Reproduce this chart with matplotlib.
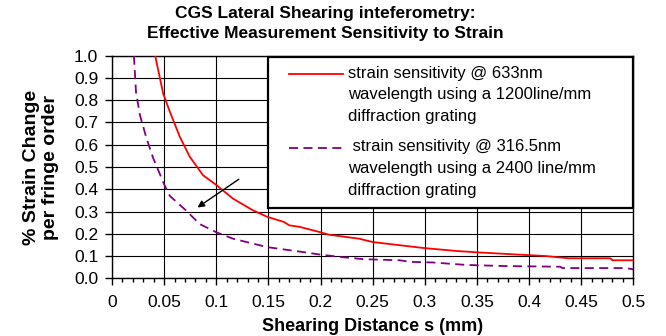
import matplotlib
matplotlib.use("Agg")
import matplotlib.pyplot as plt
from matplotlib.patches import Rectangle

plt.rcParams['font.family'] = ['Liberation Sans', 'DejaVu Sans']

# shearing distance (mm) vs % strain change per fringe order
red_x = [0.0414, 0.049, 0.0555, 0.065, 0.0746, 0.0873, 0.1004, 0.116, 0.135, 0.149,
         0.165, 0.17, 0.18, 0.199, 0.208, 0.237, 0.25, 0.299, 0.33, 0.349,
         0.384, 0.416, 0.438, 0.478, 0.48, 0.5]
red_y = [1.0, 0.831, 0.748, 0.636, 0.546, 0.463, 0.418, 0.358, 0.306, 0.276,
         0.253, 0.238, 0.231, 0.208, 0.196, 0.178, 0.163, 0.136, 0.123, 0.117,
         0.108, 0.100, 0.090, 0.090, 0.081, 0.081]

purple_x = [0.021, 0.023, 0.0268, 0.033, 0.0395, 0.050, 0.0555, 0.0714, 0.084, 0.100,
            0.116, 0.149, 0.180, 0.199, 0.219, 0.241, 0.276, 0.286, 0.308, 0.340,
            0.378, 0.430, 0.432, 0.493, 0.5]
purple_y = [1.0, 0.837, 0.733, 0.63, 0.54, 0.422, 0.37, 0.303, 0.244, 0.207,
            0.178, 0.140, 0.120, 0.107, 0.096, 0.086, 0.081, 0.074, 0.071, 0.060,
            0.055, 0.052, 0.046, 0.046, 0.04]

label_red = ["strain sensitivity @ 633nm",
             "wavelength using a 1200line/mm",
             "diffraction grating"]
label_purple = [" strain sensitivity @ 316.5nm",
                "wavelength using a 2400 line/mm",
                "diffraction grating"]

x_ticks = [0, 0.05, 0.1, 0.15, 0.2, 0.25, 0.3, 0.35, 0.4, 0.45, 0.5]
x_ticklabels = ["0", "0.05", "0.1", "0.15", "0.2", "0.25", "0.3", "0.35", "0.4", "0.45", "0.5"]
y_ticks = [i / 10 for i in range(11)]
y_ticklabels = [f"{v:.1f}" for v in y_ticks]

fig = plt.figure(figsize=(6.66, 3.36), dpi=100)
ax = fig.add_axes([0.1682, 0.1717, 0.7827, 0.6625])

ax.plot(red_x, red_y, color='#FF0000', lw=1.3, zorder=3)
ax.plot(purple_x, purple_y, color='#800080', lw=1.3, dashes=(5, 3), zorder=3)

ax.set_xlim(0, 0.5)
ax.set_ylim(0, 1.0)
ax.set_xticks(x_ticks)
ax.set_xticklabels(x_ticklabels, fontsize=12.5)
ax.set_xticks([i / 100 for i in range(51)], minor=True)
ax.set_yticks(y_ticks)
ax.set_yticklabels(y_ticklabels, fontsize=12.5)
ax.tick_params(axis='both', which='major', length=5, width=1, color='black')
ax.tick_params(axis='x', which='minor', length=3, width=1, color='black')
ax.tick_params(axis='x', which='major', pad=7)
ax.tick_params(axis='y', pad=5)
ax.grid(True, which='major', color='black', lw=0.8)
ax.set_axisbelow(True)
for s in ax.spines.values():
    s.set_color('black')
    s.set_linewidth(1)

ax.set_xlabel("Shearing Distance s (mm)", fontsize=13, fontweight='bold', labelpad=6)
ax.set_ylabel("% Strain Change\nper fringe order", fontsize=14, fontweight='bold',
              labelpad=11, linespacing=1.15)

fig.text(0.488, 0.982, "CGS Lateral Shearing inteferometry:\nEffective Measurement Sensitivity to Strain",
         ha='center', va='top', fontsize=12.5, fontweight='bold', linespacing=1.45)

ax.annotate("", xy=(0.0797, 0.311), xytext=(0.1238, 0.452),
            arrowprops=dict(arrowstyle='-|>', color='black', lw=1, mutation_scale=10),
            zorder=4)

# legend box drawn by hand so the handles sit on the first text line
ax.add_patch(Rectangle((0.300, 0.316), 0.699, 0.678, transform=ax.transAxes,
                       facecolor='white', edgecolor='black', lw=1.6, zorder=5, clip_on=False))
ax.plot([0.3395, 0.443], [0.918, 0.918], transform=ax.transAxes, color='#FF0000', lw=1.3,
        zorder=6, clip_on=False)
ax.plot([0.3395, 0.443], [0.587, 0.587], transform=ax.transAxes, color='#800080', lw=1.3,
        dashes=(5, 3), zorder=6, clip_on=False)
pitch = 0.0985
for i, line in enumerate(label_red):
    ax.text(0.4527, 0.922 - i * pitch, line, transform=ax.transAxes, fontsize=12,
            va='center', ha='left', zorder=7)
for i, line in enumerate(label_purple):
    ax.text(0.4527, 0.591 - i * pitch, line, transform=ax.transAxes, fontsize=12,
            va='center', ha='left', zorder=7)

fig.savefig("out.png", dpi=100)
